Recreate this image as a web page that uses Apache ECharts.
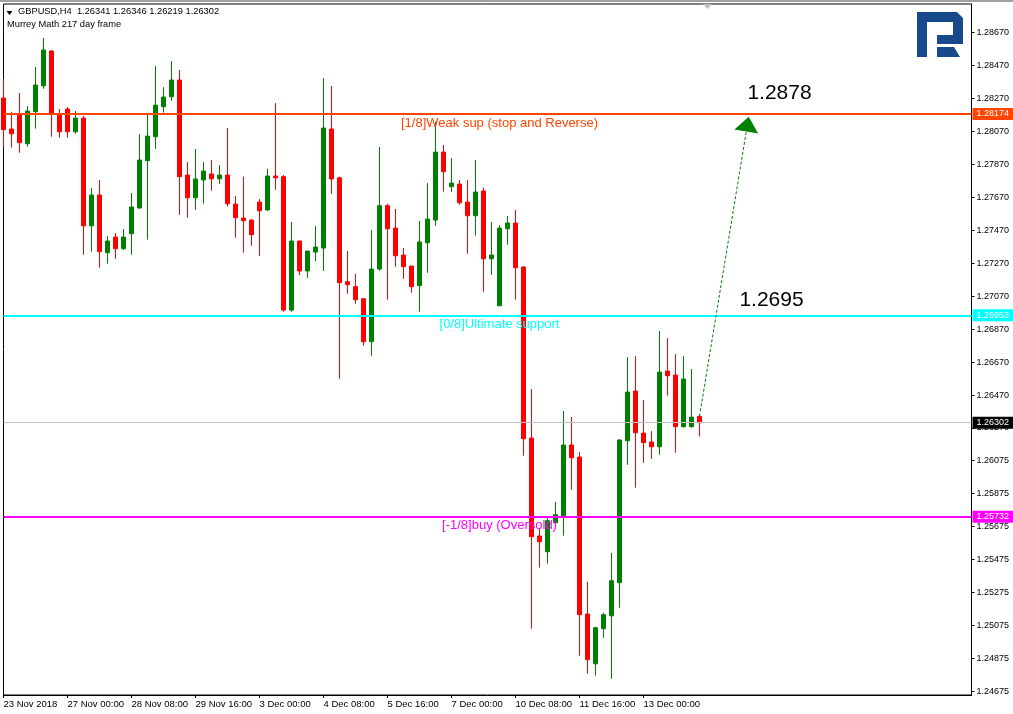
<!DOCTYPE html>
<html><head><meta charset="utf-8">
<script src="https://cdn.jsdelivr.net/npm/echarts@6/dist/echarts.min.js"></script>
<style>html,body{margin:0;padding:0;background:#fff}#c{width:1013px;height:714px}</style>
</head><body><div id="c"></div>
<script>
const symbolName = 'GBPUSD,H4';
const subtitle = 'Murrey Math 217 day frame';
// H4 bars, oldest first (23 Nov 2018 16:00 ... 14 Dec 2018 04:00)
const open = [1.28271,1.28083,1.28174,1.27994,1.28188,1.28345,1.28556,1.28174,1.28204,1.28066,
  1.28149,1.27496,1.27683,1.27333,1.27428,1.27357,1.27448,1.27604,1.27891,1.28036,
  1.28218,1.28279,1.28380,1.27804,1.27666,1.27774,1.27810,1.27781,1.27804,1.27628,
  1.27543,1.27531,1.27640,1.27592,1.27798,1.27794,1.26985,1.27404,1.27222,1.27337,
  1.27361,1.28083,1.27787,1.27157,1.27127,1.27054,1.26793,1.27234,1.27618,1.27482,
  1.27319,1.27252,1.27133,1.27393,1.27531,1.27943,1.27733,1.27749,1.27640,1.27557,
  1.27707,1.27296,1.27011,1.27478,1.27513,1.27246,1.26209,1.25615,1.25520,1.25695,
  1.25738,1.26167,1.26094,1.25142,1.24840,1.25053,1.25131,1.25332,1.26193,1.26494,
  1.26239,1.26185,1.26156,1.26615,1.26591,1.26278,1.26278,1.26341];
const high = [1.28386,1.28186,1.28301,1.28222,1.28459,1.28635,1.28562,1.28204,1.28216,1.28192,
  1.28162,1.27725,1.27774,1.27434,1.27452,1.27476,1.27695,1.28052,1.28174,1.28465,
  1.28337,1.28495,1.28441,1.27883,1.27962,1.27883,1.27895,1.27864,1.28089,1.27677,
  1.27794,1.27537,1.27658,1.27842,1.28240,1.27804,1.27519,1.27404,1.27343,1.27495,
  1.28392,1.28344,1.27794,1.27343,1.27205,1.27058,1.27470,1.27974,1.27630,1.27598,
  1.27361,1.27252,1.27525,1.27755,1.28125,1.27986,1.27907,1.27774,1.27774,1.27895,
  1.27727,1.27519,1.27501,1.27555,1.27592,1.27252,1.26506,1.25657,1.25726,1.25823,
  1.26373,1.26337,1.26124,1.25338,1.25065,1.25150,1.25513,1.26203,1.26700,1.26706,
  1.26439,1.26251,1.26858,1.26815,1.26718,1.26706,1.26627,1.26346];
const low = [1.27976,1.27970,1.27939,1.27976,1.28085,1.28327,1.28036,1.28030,1.28030,1.28054,
  1.27321,1.27339,1.27242,1.27266,1.27296,1.27349,1.27321,1.27600,1.27412,1.27963,
  1.28182,1.28254,1.27563,1.27545,1.27592,1.27630,1.27709,1.27751,1.27612,1.27424,
  1.27333,1.27375,1.27314,1.27587,1.27715,1.26975,1.26975,1.27197,1.27181,1.27282,
  1.27222,1.27690,1.26569,1.27084,1.27023,1.26769,1.26708,1.27224,1.27048,1.27248,
  1.27175,1.27090,1.26975,1.27211,1.27496,1.27703,1.27703,1.27624,1.27327,1.27436,
  1.27096,1.27199,1.27011,1.27381,1.27048,1.26102,1.25053,1.25423,1.25447,1.25694,
  1.25617,1.25896,1.24889,1.24780,1.24768,1.24998,1.24749,1.25180,1.26047,1.25908,
  1.26059,1.26083,1.26108,1.26466,1.26120,1.26272,1.26272,1.26219];
const close = [1.28079,1.28054,1.28000,1.28192,1.28350,1.28562,1.28178,1.28066,1.28066,1.28149,
  1.27496,1.27683,1.27339,1.27404,1.27357,1.27428,1.27610,1.27895,1.28040,1.28228,
  1.28277,1.28380,1.27794,1.27666,1.27780,1.27828,1.27781,1.27804,1.27630,1.27545,
  1.27527,1.27442,1.27587,1.27798,1.27787,1.26985,1.27404,1.27222,1.27343,1.27367,
  1.28089,1.27780,1.27151,1.27139,1.27048,1.26793,1.27234,1.27618,1.27478,1.27314,
  1.27248,1.27127,1.27398,1.27537,1.27943,1.27824,1.27755,1.27636,1.27557,1.27701,
  1.27296,1.27319,1.27482,1.27513,1.27242,1.26205,1.25611,1.25580,1.25708,1.25744,
  1.26167,1.26090,1.25138,1.24865,1.25059,1.25138,1.25344,1.26197,1.26488,1.26241,
  1.26181,1.26156,1.26609,1.26587,1.26278,1.26567,1.26336,1.26302];
const xLabels = ['23 Nov 2018','27 Nov 00:00','28 Nov 08:00','29 Nov 16:00','3 Dec 00:00',
  '4 Dec 08:00','5 Dec 16:00','7 Dec 00:00','10 Dec 08:00','11 Dec 16:00','13 Dec 00:00'];
const yTicks = [1.28670,1.28470,1.28270,1.28070,1.27870,1.27670,1.27470,1.27270,1.27070,1.26870,
  1.26670,1.26470,1.26270,1.26075,1.25875,1.25675,1.25475,1.25275,1.25075,1.24875,1.24675];
const levelValues = [1.28174, 1.26953, 1.25732];
const levelNames = ['[1/8]Weak sup (stop and Reverse)', '[0/8]Ultimate support', '[-1/8]buy (Oversold)'];
const levelColors = ['#FF4500', '#00FFFF', '#FF00FF'];
const bidPrice = 1.26302;
const targetValues = [1.2878, 1.2695];
const arrowFrom = [87, 1.26341];
const arrowTo = [93, 1.28113];

const SLOTS = 122;   // visible bar slots incl. right shift
const FONT = '"Liberation Sans", Arial, sans-serif';
const last = open.length - 1;
const candleData = open.map((o, i) => [o, close[i], low[i], high[i]]);
const categories = Array.from({length: SLOTS}, (_, i) => String(i));
const isLabelSlot = idx => idx % 8 === 0 && idx / 8 < xLabels.length;

const markLineData = [];
levelValues.forEach((v, i) => {
  markLineData.push({
    yAxis: v,
    lineStyle: {color: levelColors[i], width: 2, type: 'solid'},
    label: {show: true, position: 'end', distance: 1, formatter: v.toFixed(5), color: '#fff',
      backgroundColor: levelColors[i], padding: [1, 4, 0, 4], fontSize: 9, lineHeight: 11, fontFamily: FONT}
  });
});
markLineData.push({
  yAxis: bidPrice,
  lineStyle: {color: '#C0C0C0', width: 1, type: 'solid'},
  label: {show: true, position: 'end', distance: 1, formatter: bidPrice.toFixed(5), color: '#fff',
    backgroundColor: '#000', padding: [1, 4, 0, 4], fontSize: 9, lineHeight: 11, fontFamily: FONT}
});
markLineData.push([
  {coord: arrowFrom, symbol: 'none'},
  {coord: arrowTo, symbol: 'triangle', symbolSize: [24, 15],
   lineStyle: {color: '#008000', width: 1, type: [3, 2]}, label: {show: false}}
]);

const markPointData = [];
levelValues.forEach((v, i) => {
  markPointData.push({
    coord: [62, v], symbol: 'circle', symbolSize: 0,
    label: {show: true, position: 'inside', offset: [0, 9], formatter: levelNames[i],
      color: levelColors[i], fontSize: 13, fontFamily: FONT}
  });
});
markPointData.push({
  coord: [97, levelValues[0]], symbol: 'circle', symbolSize: 0,
  label: {show: true, position: 'inside', offset: [0, -21], formatter: targetValues[0].toFixed(4),
    color: '#000', fontSize: 21, fontFamily: FONT}
});
markPointData.push({
  coord: [96, levelValues[1]], symbol: 'circle', symbolSize: 0,
  label: {show: true, position: 'inside', offset: [0, -15], formatter: targetValues[1].toFixed(4),
    color: '#000', fontSize: 21, fontFamily: FONT}
});

const chart = echarts.init(document.getElementById('c'), null, {renderer: 'canvas'});
chart.setOption({
  animation: false,
  backgroundColor: '#fff',
  title: [
    {text: symbolName + '  ' + [open[last], high[last], low[last], close[last]].map(v => v.toFixed(5)).join(' '),
     left: 18, top: 7, padding: 0,
     textStyle: {fontSize: 9.3, fontWeight: 'normal', color: '#000', fontFamily: FONT}},
    {text: subtitle, left: 7, top: 20, padding: 0,
     textStyle: {fontSize: 9.3, fontWeight: 'normal', color: '#000', fontFamily: FONT}}
  ],
  grid: {left: 3.5, right: 41.5, top: 4, bottom: 19, show: true, borderColor: '#000', borderWidth: 1, containLabel: false},
  xAxis: {
    type: 'category', data: categories, boundaryGap: false,
    axisLine: {show: true, lineStyle: {color: '#000', width: 1}},
    axisTick: {show: true, interval: isLabelSlot, length: 3, lineStyle: {color: '#000'}},
    axisLabel: {show: true, interval: isLabelSlot, align: 'left', margin: 4, fontSize: 9.5, color: '#000', fontFamily: FONT,
      formatter: (v, idx) => isLabelSlot(idx) ? xLabels[idx / 8] : ''},
    splitLine: {show: false}
  },
  yAxis: {
    type: 'value', position: 'right', min: 1.24651, max: 1.28841, scale: true,
    axisLine: {show: true, lineStyle: {color: '#000', width: 1}},
    axisTick: {show: true, length: 3, customValues: yTicks, lineStyle: {color: '#000'}},
    axisLabel: {show: true, customValues: yTicks, margin: 5, fontSize: 9, color: '#000', fontFamily: FONT,
      formatter: v => v.toFixed(5)},
    splitLine: {show: false}
  },
  series: [{
    type: 'candlestick',
    data: candleData,
    barWidth: 4,
    clip: true,
    itemStyle: {color: '#008000', color0: '#FF0000', borderColor: '#008000', borderColor0: '#FF0000', borderWidth: 1},
    markLine: {silent: true, precision: 5, symbol: ['none', 'none'], animation: false, data: markLineData},
    markPoint: {silent: true, animation: false, data: markPointData}
  }],
  graphic: [
    {type: 'rect', shape: {x: 0, y: 0, width: 1013, height: 2}, style: {fill: '#a0a0a0'}, silent: true},
    {type: 'polygon', shape: {points: [[6.5, 11], [12.5, 11], [9.5, 15]]}, style: {fill: '#000'}, silent: true},
    {type: 'polygon', shape: {points: [[703, 4], [712, 4], [707.5, 9]]}, style: {fill: '#c0c0c0'}, silent: true},
    {type: 'group', silent: true, children: [
      {type: 'polygon', shape: {points: [[917, 12], [957, 12], [963, 18], [963, 44], [937, 44], [937, 35], [953, 35], [953, 22], [927, 22], [927, 57], [917, 57]]}, style: {fill: '#17498b'}},
      {type: 'polygon', shape: {points: [[937, 47], [954, 47], [960, 57], [937, 57]]}, style: {fill: '#17498b'}}
    ]}
  ]
});
</script></body></html>
